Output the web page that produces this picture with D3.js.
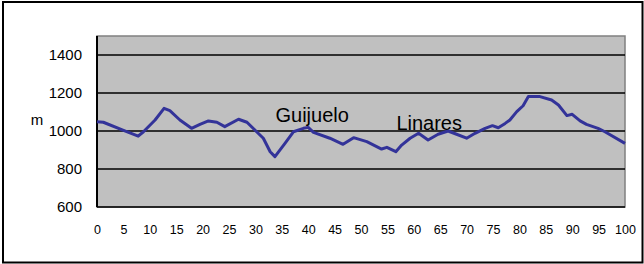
<!DOCTYPE html>
<html>
<head>
<meta charset="utf-8">
<script src="https://cdn.jsdelivr.net/npm/d3@7"></script>
<style>
  body { margin: 0; background: #fff; }
  svg { display: block; font-family: "Liberation Sans", Arial, sans-serif; }
</style>
</head>
<body>
<div id="chart"></div>
<script>
// profile (km, m)
const km = [0, 1.2, 4.9, 7.8, 8.8, 11, 12.7, 13.8, 15.7, 17.9, 19.5, 21.1, 22.7, 24.2, 26.8, 28.4,
  29.9, 31.5, 32.8, 33.7, 35.6, 37.2, 39.1, 40, 41, 44.1, 46.6, 48.6, 51.1, 53.9, 54.9, 56.6,
  57.7, 59.3, 60.9, 62.7, 64.6, 66.5, 68.1, 70, 71.6, 73.5, 74.9, 76, 77.3, 78.2, 79.5, 80.7,
  81.7, 83.9, 86.1, 87.4, 89, 90, 91.5, 92.7, 94.9, 96.2, 100];
const elevation = [1049, 1046, 1005, 973, 996, 1058, 1119, 1107, 1058, 1014, 1035, 1053, 1046, 1023, 1062, 1046,
  1005, 962, 891, 865, 935, 996, 1014, 1019, 993, 962, 930, 965, 944, 905, 914, 891,
  926, 962, 988, 953, 983, 1000, 983, 962, 988, 1014, 1028, 1017, 1040, 1058, 1102, 1133,
  1181, 1181, 1163, 1137, 1081, 1088, 1053, 1035, 1014, 996, 935];
const xTicks = d3.range(0, 101, 5);
const yTicks = [600, 800, 1000, 1200, 1400];
const towns = [
  { name: 'Guijuelo', km: 33.8, m: 1049 },
  { name: 'Linares', km: 56.7, m: 1005 }
];

const W = 644, H = 264;
const margin = { top: 36, right: 19, bottom: 57, left: 97 },
  width = W - margin.left - margin.right,
  height = H - margin.top - margin.bottom;

const root = d3.select('#chart').append('svg').attr('width', W).attr('height', H);

// outer frame
root.append('rect')
  .attr('x', 3).attr('y', 2).attr('width', 639.5).attr('height', 260.5)
  .attr('fill', 'none').attr('stroke', '#000').attr('stroke-width', 2);

const svg = root.append('g').attr('transform', 'translate(' + margin.left + ',' + margin.top + ')');

const x = d3.scaleLinear().domain([0, 100]).range([0, width]);
const y = d3.scaleLinear().domain([600, 1500]).range([height, 0]);

// plot area
svg.append('rect')
  .attr('width', width).attr('height', height)
  .attr('fill', '#c0c0c0').attr('stroke', '#808080').attr('stroke-width', 1.5);

// gridlines
svg.selectAll('.grid').data(yTicks).enter().append('line')
  .attr('x1', 0).attr('x2', width)
  .attr('y1', d => y(d)).attr('y2', d => y(d))
  .attr('stroke', '#000').attr('stroke-width', 1.7);

svg.append('line')
  .attr('x1', 0).attr('x2', 0).attr('y1', 0).attr('y2', height)
  .attr('stroke', '#000').attr('stroke-width', 2);

const yAxis = svg.append('g')
  .call(d3.axisLeft(y).tickValues(yTicks).tickSize(0).tickPadding(15).tickFormat(d3.format('d')));
yAxis.select('.domain').remove();
yAxis.selectAll('text').attr('font-size', 15).attr('font-family', 'Liberation Sans, Arial').attr('fill', '#000');

const xAxis = svg.append('g')
  .attr('transform', 'translate(0,' + height + ')')
  .call(d3.axisBottom(x).tickValues(xTicks).tickSize(0).tickPadding(18).tickFormat(d3.format('d')));
xAxis.select('.domain').remove();
xAxis.selectAll('text').attr('font-size', 12.5).attr('font-family', 'Liberation Sans, Arial').attr('fill', '#000');

// axis title
root.append('text')
  .attr('x', 37).attr('y', 125)
  .attr('text-anchor', 'middle')
  .attr('font-size', 15)
  .text('m');

// profile line
const pts = km.map((k, i) => [k, elevation[i]]);
svg.append('path')
  .datum(pts)
  .attr('fill', 'none')
  .attr('stroke', '#333399')
  .attr('stroke-width', 3)
  .attr('stroke-linejoin', 'round')
  .attr('d', d3.line().x(d => x(d[0])).y(d => y(d[1])));

// town labels
svg.selectAll('.town').data(towns).enter().append('text')
  .attr('x', d => x(d.km))
  .attr('y', d => y(d.m))
  .attr('font-size', 20)
  .attr('fill', '#000')
  .text(d => d.name);
</script>
</body>
</html>
